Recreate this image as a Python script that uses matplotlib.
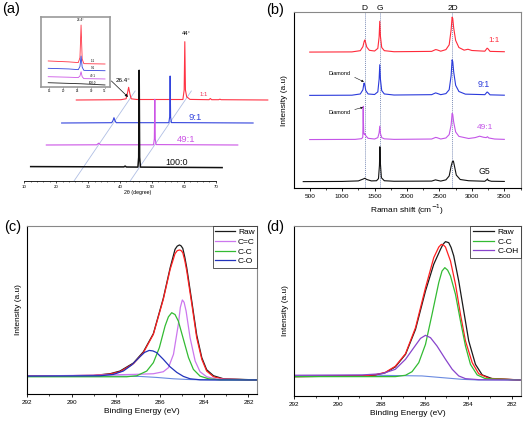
import numpy as np
import matplotlib
matplotlib.use('Agg')
import matplotlib.pyplot as plt
from matplotlib.ticker import MultipleLocator, FixedLocator

plt.rcParams['font.family'] = ['Liberation Sans', 'DejaVu Sans']

# ---------------- (a) XRD data (2theta in degree, intensity a.u.) ----------------
xrd_labels = ['1:1', '9:1', '49:1', '100:0']
xrd_colors = ['#ff3344', '#3344dd', '#cc55e6', '#111111']
xrd_x_11 = [10, 24.0, 25.6, 26.0, 26.4, 26.8, 27.2, 29.0, 43.4, 43.8, 44.0, 44.2, 44.6, 45.0, 45.6, 51.6, 52.0, 52.4, 54.6, 55.0, 55.4, 70]
xrd_y_11 = [0.0, 0.3, 1.2, 6.5, 12.7, 6.0, 1.2, 0.5, 0.5, 10, 58.3, 10, 3.0, 2.2, 0.6, 0.3, 1.5, 0.3, 0.3, 0.8, 0.3, 0.0]
xrd_x_91 = [10, 25.7, 26.1, 26.4, 26.7, 27.1, 43.6, 43.85, 44.0, 44.15, 44.4, 70]
xrd_y_91 = [0.0, 0.3, 2.5, 5.3, 2.5, 0.3, 0.3, 6, 47.0, 6, 0.4, 0.0]
xrd_x_491 = [10, 25.8, 26.4, 27.0, 43.6, 43.85, 44.0, 44.15, 44.4, 70]
xrd_y_491 = [0.0, 0.2, 1.8, 0.2, 0.2, 6, 45.7, 6, 0.4, 0.0]
xrd_x_100 = [10, 39.2, 39.6, 40.0, 43.6, 43.85, 44.0, 44.15, 44.4, 70]
xrd_y_100 = [0.7, 0.4, 1.2, 0.3, 0.2, 10, 97.0, 10, 0.2, -0.3]
# waterfall offsets (x shift in degree, vertical base)
xrd_shift = [16.3, 11.7, 6.9, 2.0]
xrd_base = [81.0, 58.0, 36.0, 13.7]

# inset data
ins_x = [14.6, 22.0, 25.4, 26.0, 26.4, 26.8, 27.4, 35.0]
ins_y_11 = [37.3, 36.0, 35.0, 42.0, 88.2, 40.0, 33.5, 33.0]
ins_y_91 = [26.9, 26.0, 25.0, 29.5, 44.3, 28.5, 24.0, 23.5]
ins_y_491 = [15.0, 14.3, 13.8, 16.0, 22.1, 15.0, 12.3, 11.8]
ins_x_100 = [14.6, 26.4, 35.0]
ins_y_100 = [6.5, 5.0, 3.3]

# ---------------- (b) Raman data ----------------
ram_x_11 = [500, 1150, 1280, 1320, 1340, 1350, 1360, 1380, 1420, 1500, 1550, 1570, 1580, 1590, 1610, 1650, 1800, 2380, 2440, 2460, 2520, 2600, 2650, 2680, 2695, 2705, 2720, 2750, 2800, 2880, 2940, 3000, 3200, 3235, 3245, 3280, 3500]
ram_y_11 = [77.4, 77.5, 78.2, 80.5, 83.5, 84.3, 83.0, 80.2, 78.4, 78.0, 79.5, 86, 94.9, 86.5, 80, 78.2, 77.6, 77.8, 78.8, 78.7, 77.9, 78.8, 81.5, 90, 97.2, 96.5, 91, 84, 80, 78.5, 79.0, 78.3, 77.9, 79.6, 79.4, 77.8, 77.6]
ram_x_91 = [500, 1150, 1280, 1320, 1335, 1340, 1350, 1365, 1400, 1500, 1550, 1570, 1580, 1590, 1610, 1650, 1800, 2380, 2440, 2460, 2520, 2600, 2650, 2680, 2695, 2705, 2720, 2750, 2800, 2900, 3200, 3235, 3245, 3280, 3500]
ram_y_91 = [52.8, 52.9, 53.6, 56, 59.5, 59.8, 58.5, 55.5, 53.6, 53.3, 54.8, 62, 70.2, 62, 55.5, 53.6, 53.0, 53.2, 54.2, 54.0, 53.2, 53.8, 56, 64, 73.0, 72.0, 66, 58.5, 55, 53.5, 53.2, 54.7, 54.5, 53.1, 52.9]
ram_x_491 = [500, 1200, 1300, 1318, 1322, 1325, 1328, 1334, 1345, 1352, 1365, 1400, 1500, 1550, 1570, 1580, 1590, 1610, 1650, 1800, 2380, 2440, 2460, 2520, 2600, 2650, 2680, 2695, 2705, 2720, 2750, 2800, 2950, 3050, 3120, 3180, 3220, 3240, 3260, 3350, 3500]
ram_y_491 = [27.7, 27.8, 28.2, 29, 38, 46.6, 38, 31, 30.5, 31.0, 29.8, 28.4, 28.0, 28.8, 31.5, 35.3, 31.2, 28.8, 28.1, 27.8, 28.0, 28.9, 28.8, 28.0, 28.6, 30.5, 36, 42.5, 42, 37.5, 32, 29.5, 28.3, 28.8, 29.6, 29.0, 28.8, 29.3, 28.6, 28.0, 27.8]
ram_x_g5 = [400, 1000, 1250, 1320, 1350, 1380, 1450, 1530, 1560, 1575, 1582, 1590, 1605, 1650, 1800, 2380, 2440, 2460, 2520, 2600, 2650, 2680, 2700, 2715, 2735, 2760, 2820, 2950, 3200, 3235, 3242, 3250, 3300, 3500]
ram_y_g5 = [3.8, 3.9, 4.2, 5.2, 5.7, 5.0, 4.2, 4.3, 5.5, 13, 23.6, 14, 6, 4.3, 4.0, 4.1, 4.8, 4.6, 4.1, 4.8, 7, 12.5, 15.2, 15.5, 12, 7.5, 5, 4.3, 4.0, 5.0, 5.3, 4.5, 4.0, 3.9]
ram_bands = ['D', 'G', '2D']
ram_band_pos = [1350, 1580, 2700]

# ---------------- (c) XPS C1s data ----------------
c_base_x = [292.0, 288.0, 286.9, 286.15, 285.4, 284.8, 284.19, 281.59]
c_base_y = [10.5, 10.5, 10.3, 9.7, 8.9, 8.5, 8.3, 8.2]
c_co_x = [292.0, 288.71, 288.11, 287.66, 287.28, 286.90, 286.70, 286.49, 286.32, 286.15, 285.85, 285.55, 285.24, 284.94, 284.64, 284.19, 283.43, 281.59]
c_co_y = [10.5, 10.7, 11.5, 13.5, 17.1, 22.1, 24.6, 25.8, 25.5, 24.5, 20.5, 16.1, 12.7, 10.3, 8.9, 8.3, 8.2, 8.2]
c_cc_x = [292.0, 287.51, 287.05, 286.60, 286.30, 286.03, 285.77, 285.62, 285.47, 285.32, 285.17, 284.94, 284.71, 284.49, 284.19, 283.81, 283.28, 281.59]
c_cc_y = [10.1, 10.1, 10.7, 13.5, 18.5, 27.4, 40.4, 45.8, 48.3, 47.2, 43.3, 32.4, 21.5, 14.5, 10.5, 8.9, 8.3, 8.2]
c_cdc_x = [292.0, 288.71, 287.2, 286.30, 285.85, 285.62, 285.39, 285.17, 285.08, 284.99, 284.91, 284.82, 284.64, 284.41, 284.19, 283.89, 283.43, 281.59]
c_cdc_y = [10.5, 11.1, 11.5, 11.9, 13.1, 15.5, 23.5, 41.4, 51.5, 55.9, 54.5, 49.3, 33.4, 19.5, 13.1, 10.1, 8.7, 8.2]
c_env_x = [292.0, 289.01, 288.26, 287.81, 287.20, 286.75, 286.30, 285.85, 285.54, 285.32, 285.22, 285.12, 285.05, 284.97, 284.88, 284.79, 284.56, 284.34, 284.11, 283.89, 283.58, 283.13, 281.59]
c_fit_y = [10.5, 10.9, 11.7, 13.1, 17.9, 24.5, 35.4, 56.3, 74.2, 83.5, 85.3, 85.7, 85.4, 84.1, 79.5, 73.2, 53.3, 33.4, 20.5, 13.5, 10.1, 8.7, 8.2]
c_raw_y = [10.5, 10.9, 11.9, 13.5, 18.3, 25.0, 35.8, 56.9, 75.1, 86.1, 88.0, 88.7, 88.2, 86.7, 81.5, 75.1, 54.9, 35.0, 21.5, 14.3, 10.7, 8.9, 8.2]

# ---------------- (d) XPS C1s data ----------------
d_base_x = [292.0, 288.27, 286.12, 285.20, 284.27, 283.51, 281.54]
d_base_y = [11.8, 12.2, 11.8, 10.8, 9.8, 9.4, 9.4]
d_raw_x = [292.0, 288.88, 288.27, 287.81, 287.35, 286.88, 286.42, 285.96, 285.58, 285.27, 285.15, 285.04, 284.89, 284.78, 284.66, 284.43, 284.20, 283.97, 283.66, 283.35, 282.89, 281.54]
d_raw_y = [11.4, 11.8, 12.4, 13.7, 17.1, 24.5, 39.2, 61.8, 77.5, 86.3, 89.3, 90.8, 90.2, 87.3, 82.4, 67.6, 50.0, 32.4, 18.6, 12.4, 10.2, 9.4]
d_fit_x = [292.0, 288.88, 288.27, 287.81, 287.35, 286.88, 286.42, 285.96, 285.58, 285.35, 285.23, 285.13, 285.04, 284.81, 284.58, 284.35, 284.12, 283.81, 283.51, 283.04, 281.54]
d_fit_y = [11.4, 11.8, 12.5, 13.9, 17.5, 24.9, 40.2, 63.7, 81.4, 87.6, 89.2, 88.8, 87.6, 79.4, 65.7, 48.0, 32.4, 19.6, 13.1, 10.4, 9.4]
d_cc_x = [292.0, 287.35, 286.88, 286.58, 286.27, 285.96, 285.66, 285.35, 285.20, 285.07, 284.94, 284.81, 284.58, 284.35, 284.12, 283.89, 283.58, 283.20, 281.54]
d_cc_y = [11.4, 11.4, 12.2, 14.3, 19.6, 30.4, 48.0, 66.7, 73.5, 75.5, 74.0, 70.6, 59.8, 44.1, 29.4, 18.6, 12.4, 10.2, 9.4]
d_coh_x = [292.0, 288.88, 287.96, 287.35, 286.88, 286.50, 286.19, 285.96, 285.73, 285.43, 285.04, 284.73, 284.43, 284.12, 283.51, 281.54]
d_coh_y = [12.2, 12.4, 13.1, 15.7, 21.6, 28.4, 33.9, 35.7, 34.3, 29.4, 21.6, 15.7, 11.8, 10.2, 9.6, 9.4]

# =====================================================================
W, H = 524, 422
fig = plt.figure(figsize=(W / 100, H / 100), dpi=100)
fig.patch.set_facecolor('white')


def fax(l, t, r, b):
    return fig.add_axes([l / W, 1 - b / H, (r - l) / W, (b - t) / H])


# ---------------- panel (a) ----------------
axa = fax(5, 0, 270, 181)
axa.patch.set_alpha(0)
axa.set_xlim(3.95, 87.0)
axa.set_ylim(0, 181)
for s in ['left', 'right', 'top']:
    axa.spines[s].set_visible(False)
axa.spines['bottom'].set_bounds(10, 70)
axa.spines['bottom'].set_linewidth(0.6)
axa.set_xticks(range(10, 71, 10))
axa.xaxis.set_minor_locator(FixedLocator(np.arange(12, 70, 2)))
axa.set_yticks([])
axa.tick_params(axis='x', labelsize=3.2, length=1.6, width=0.5, pad=1)
axa.tick_params(axis='x', which='minor', length=1.0, width=0.4)
axa.set_xlabel('2θ (degree)', fontsize=3.8, labelpad=1)

k, c0 = np.polyfit(np.array(xrd_base), np.array(xrd_shift), 1)
yy = np.array([0.0, 90.0])
for p in (26.4, 44.0):
    axa.plot(p + k * yy + c0, yy, color='#b0bfe4', lw=0.6, zorder=1)

xrd_xs = [xrd_x_11, xrd_x_91, xrd_x_491, xrd_x_100]
xrd_ys = [xrd_y_11, xrd_y_91, xrd_y_491, xrd_y_100]
xrd_lw = [0.8, 0.8, 0.8, 1.1]
for xs, ys, dx, y0, col, lw in zip(xrd_xs, xrd_ys, xrd_shift, xrd_base, xrd_colors, xrd_lw):
    axa.plot(np.array(xs) + dx, np.array(ys) + y0, color=col, lw=lw, clip_on=False, zorder=3)

axa.text(40.8, 100, '26.4°', fontsize=4.5, ha='center', va='center')
axa.text(60.7, 147.7, '44°', fontsize=4.2, ha='center', va='center')
axa.text(66.3, 86, '1:1', fontsize=4.3, ha='center', va='center', color='#ee3355')
axa.text(63.5, 63.7, '9:1', fontsize=6.8, ha='center', va='center', color=xrd_colors[1])
axa.text(60.6, 41.7, '49:1', fontsize=6.8, ha='center', va='center', color=xrd_colors[2])
axa.text(57.8, 18.3, '100:0', fontsize=6.5, ha='center', va='center', color='#111111')

# inset
axi = fax(41, 16.7, 110, 87.3)
axi.set_xlim(12, 36.8)
axi.set_ylim(0, 100)
for sp in axi.spines.values():
    sp.set_color('#999999')
    sp.set_linewidth(1.2)
axi.set_xticks([15, 20, 25, 30, 35])
axi.set_yticks([])
axi.tick_params(labelsize=2.2, length=1, pad=0.5, width=0.4)
for ys, col in zip([ins_y_11, ins_y_91, ins_y_491], xrd_colors[:3]):
    axi.plot(ins_x, ys, color=col, lw=0.6)
axi.plot(ins_x_100, ins_y_100, color='#222222', lw=0.6)
axi.text(26.4, 95, '26.4°', fontsize=2.3, ha='center', va='center')
for lab, yv in zip(xrd_labels, [37.5, 27.5, 16.5, 6.5]):
    axi.text(30.5, yv, lab, fontsize=2.2, ha='center', va='center')

axa.annotate('', xy=(26.4 + xrd_shift[0] - 0.2, xrd_base[0] + 3), xycoords='data',
             xytext=(1.02, 0.09), textcoords=axi.transAxes,
             arrowprops=dict(arrowstyle='-|>', color='#111111', lw=0.5, mutation_scale=4,
                             shrinkA=0, shrinkB=0))

# ---------------- panel (b) ----------------
axb = fax(293.7, 12.3, 521.3, 188.3)
axb.set_xlim(253, 3762)
axb.set_ylim(0, 100)
for s in ['top', 'right']:
    axb.spines[s].set_color('#888888')
for s in axb.spines.values():
    s.set_linewidth(0.8)
axb.set_xticks(range(500, 3501, 500))
axb.xaxis.set_minor_locator(MultipleLocator(250))
axb.set_yticks([])
axb.tick_params(axis='x', labelsize=4.6, length=2, width=0.6, pad=2)
axb.tick_params(axis='x', which='minor', length=1.2, width=0.5)
axb.set_xlabel('Raman shift (cm$^{-1}$)', fontsize=6, labelpad=2.5)
axb.set_ylabel('Intensity (a.u)', fontsize=6, labelpad=4)
for xb, nm in zip(ram_band_pos, ram_bands):
    axb.axvline(xb, color='#7f8fb8', ls=(0, (1, 1)), lw=0.7, zorder=1)
    axb.text(xb, 102, nm, fontsize=6, ha='center', va='center', clip_on=False)
ram_xs = [ram_x_11, ram_x_91, ram_x_491, ram_x_g5]
ram_ys = [ram_y_11, ram_y_91, ram_y_491, ram_y_g5]
ram_cols = ['#ff2a3a', '#2a3adb', '#c455e8', '#111111']
for xs, ys, col in zip(ram_xs, ram_ys, ram_cols):
    axb.plot(xs, ys, color=col, lw=0.8, zorder=3)
axb.text(3340, 83.7, '1:1', fontsize=5.8, ha='center', va='center', color=ram_cols[0])
axb.text(3186, 58.7, '9:1', fontsize=6.3, ha='center', va='center', color=ram_cols[1])
axb.text(3201, 34.3, '49:1', fontsize=6.0, ha='center', va='center', color=ram_cols[2])
axb.text(3200, 9.8, 'G5', fontsize=6.3, ha='center', va='center', color='#111111')
axb.annotate('Diamond', xy=(1335, 60.5), xytext=(960, 65), fontsize=4, ha='center', va='center',
             arrowprops=dict(arrowstyle='-|>', color='#111111', lw=0.4, mutation_scale=3,
                             shrinkA=1, shrinkB=0, relpos=(1, 0.2)))
axb.annotate('Diamond', xy=(1322, 46.0), xytext=(960, 43.3), fontsize=4, ha='center', va='center',
             arrowprops=dict(arrowstyle='-|>', color='#111111', lw=0.4, mutation_scale=3,
                             shrinkA=1, shrinkB=0, relpos=(1, 0.8)))


# ---------------- panels (c) and (d) ----------------
def xps_axes(ax, xr):
    ax.set_xlim(292, xr)
    ax.set_ylim(0, 100)
    for s in ['top', 'right']:
        ax.spines[s].set_color('#888888')
    for s in ax.spines.values():
        s.set_linewidth(0.8)
    ax.set_xticks([292, 290, 288, 286, 284, 282])
    ax.xaxis.set_minor_locator(MultipleLocator(1))
    ax.set_yticks([])
    ax.tick_params(axis='x', labelsize=4.6, length=2, width=0.6, pad=2.5)
    ax.tick_params(axis='x', which='minor', length=1.2, width=0.5)
    ax.set_xlabel('Binding Energy (eV)', fontsize=6, labelpad=2)
    ax.set_ylabel('Intensity (a.u)', fontsize=6, labelpad=4)


axc = fax(27.3, 226, 257.3, 393.7)
xps_axes(axc, 281.6)
axc.plot(c_base_x, c_base_y, color='#6a8ae0', lw=0.8)
l_raw, = axc.plot(c_env_x, c_raw_y, color='#1a1a1a', lw=0.9, label='Raw')
axc.plot(c_env_x, c_fit_y, color='#ff2020', lw=0.9)
l_cdc, = axc.plot(c_cdc_x, c_cdc_y, color='#cc77ee', lw=0.9, label='C=C')
l_cc, = axc.plot(c_cc_x, c_cc_y, color='#33bb33', lw=0.9, label='C-C')
l_co, = axc.plot(c_co_x, c_co_y, color='#2233bb', lw=0.9, label='C-O')
leg = axc.legend(handles=[l_raw, l_cdc, l_cc, l_co], loc='upper right', fontsize=6,
                 borderaxespad=0, fancybox=False, handlelength=2.3, handletextpad=0.4,
                 borderpad=0.3, labelspacing=0.22)
leg.get_frame().set_edgecolor('#111111')
leg.get_frame().set_linewidth(0.6)

axd = fax(294.3, 226, 521.3, 396)
xps_axes(axd, 281.55)
axd.plot(d_base_x, d_base_y, color='#6a8ae0', lw=0.8)
m_raw, = axd.plot(d_raw_x, d_raw_y, color='#1a1a1a', lw=0.9, label='Raw')
axd.plot(d_fit_x, d_fit_y, color='#ff2020', lw=0.9)
m_cc, = axd.plot(d_cc_x, d_cc_y, color='#33bb33', lw=0.9, label='C-C')
m_coh, = axd.plot(d_coh_x, d_coh_y, color='#8844cc', lw=0.9, label='C-OH')
leg2 = axd.legend(handles=[m_raw, m_cc, m_coh], loc='upper right', fontsize=6,
                  borderaxespad=0, fancybox=False, handlelength=2.6, handletextpad=0.4,
                  borderpad=0.3, labelspacing=0.2)
leg2.get_frame().set_edgecolor('#111111')
leg2.get_frame().set_linewidth(0.6)

# panel letters
fig.text(11.3 / W, 1 - 9.3 / H, '(a)', fontsize=10.5, ha='center', va='center')
fig.text(275 / W, 1 - 10 / H, '(b)', fontsize=10.5, ha='center', va='center')
fig.text(12.7 / W, 1 - 227.5 / H, '(c)', fontsize=10.5, ha='center', va='center')
fig.text(275.5 / W, 1 - 226.5 / H, '(d)', fontsize=10.5, ha='center', va='center')

fig.savefig('out.png', dpi=100, facecolor='white')
